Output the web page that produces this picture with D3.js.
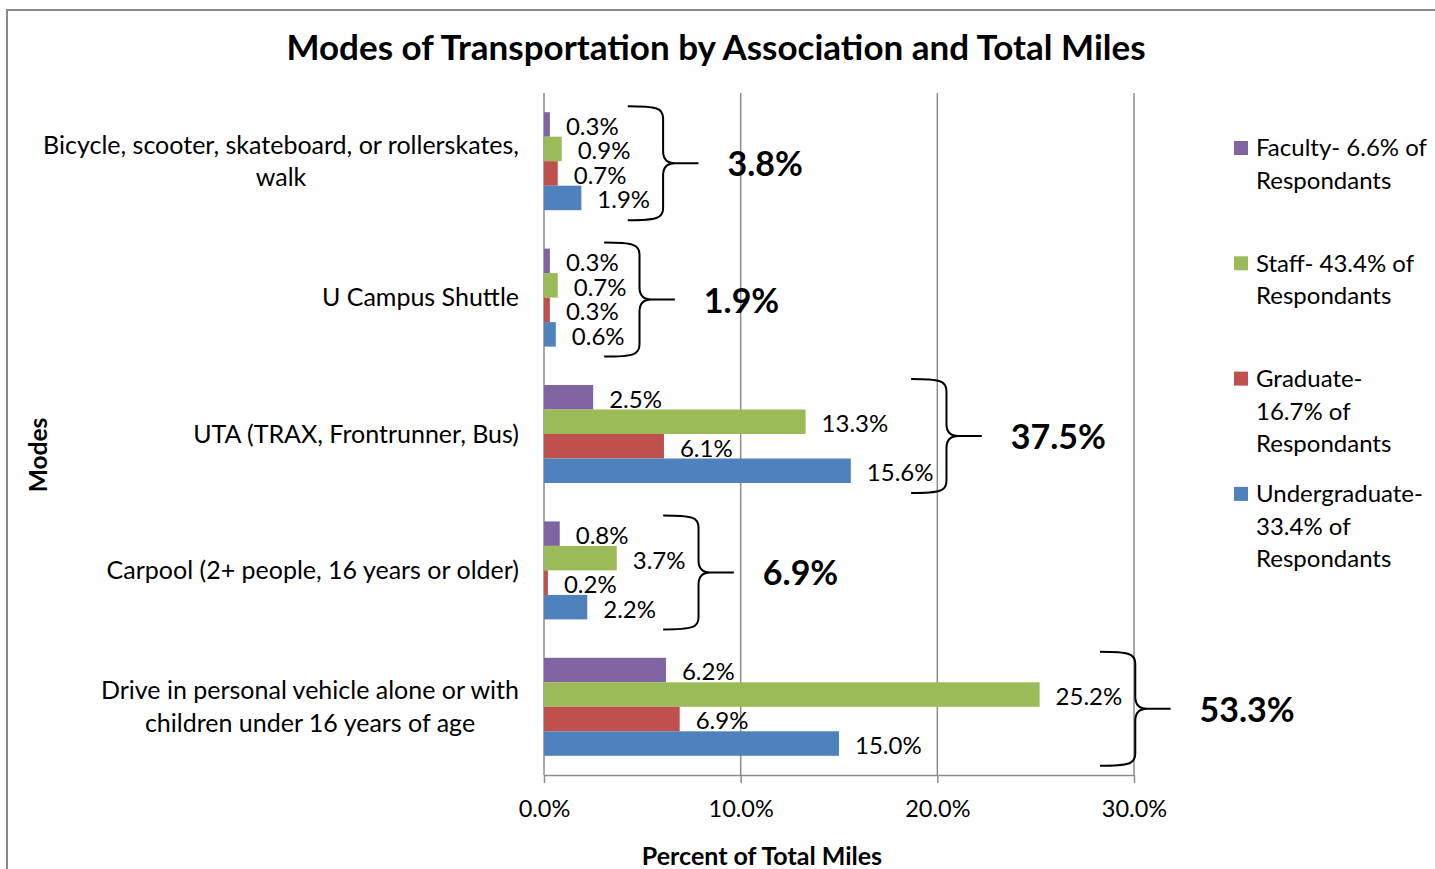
<!DOCTYPE html>
<html><head><meta charset="utf-8">
<script src="https://cdn.jsdelivr.net/npm/d3@7"></script>
<style>body{margin:0;background:#fff} svg{display:block} text{font-family:Lato, "Open Sans", sans-serif}</style>
</head><body><svg id="c" width="1435" height="869"></svg>
<script>
// ---- data ----
const categories = [
  "Bicycle, scooter, skateboard, or rollerskates,\nwalk",
  "U Campus Shuttle",
  "UTA (TRAX, Frontrunner, Bus)",
  "Carpool (2+ people, 16 years or older)",
  "Drive in personal vehicle alone or with\nchildren under 16 years of age"
];
const seriesNames = [
  "Faculty- 6.6% of\nRespondants",
  "Staff- 43.4% of\nRespondants",
  "Graduate-\n16.7% of\nRespondants",
  "Undergraduate-\n33.4% of\nRespondants"
];
const faculty   = [0.3, 0.3, 2.5, 0.8, 6.2];
const staff     = [0.9, 0.7, 13.3, 3.7, 25.2];
const graduate  = [0.7, 0.3, 6.1, 0.2, 6.9];
const undergrad = [1.9, 0.6, 15.6, 2.2, 15.0];
const totals    = [3.8, 1.9, 37.5, 6.9, 53.3];
const xTicks    = [0, 10, 20, 30];
const colors    = ["#8064A2", "#9BBB59", "#C0504D", "#4F81BD"];
const series = [faculty, staff, graduate, undergrad];

const svg = d3.select('#c');
svg.append('rect').attr('x',7).attr('y',10).attr('width',1440).attr('height',880)
  .attr('fill','#fff').attr('stroke','#8a8a8a').attr('stroke-width',2);

const plotTop = 93, plotBottom = 775;
const x = d3.scaleLinear().domain([0,30]).range([544,1134]);
const y = d3.scaleBand().domain(d3.range(categories.length)).range([plotTop,plotBottom])
  .paddingInner(0.2815).paddingOuter(0.14075);
const ys = d3.scaleBand().domain(d3.range(series.length)).range([0,y.bandwidth()]);

// title
svg.append('text').attr('x',716).attr('y',60).attr('text-anchor','middle')
  .style('font-size','35px').style('font-weight','bold')
  .text('Modes of Transportation by Association and Total Miles');

// gridlines
svg.append('g').selectAll('line').data(xTicks.filter(d=>d>0)).join('line')
  .attr('x1',d=>x(d)).attr('x2',d=>x(d)).attr('y1',plotTop).attr('y2',plotBottom)
  .attr('stroke','#8c8c8c').attr('stroke-width',1.5);
// y axis line
svg.append('line').attr('x1',x(0)).attr('x2',x(0)).attr('y1',plotTop).attr('y2',plotBottom)
  .attr('stroke','#8c8c8c').attr('stroke-width',1.5);

// x axis
const xa = svg.append('g').attr('transform',`translate(0,${plotBottom})`)
  .call(d3.axisBottom(x).tickValues(xTicks).tickFormat(d=>d.toFixed(1)+'%').tickSize(8).tickSizeOuter(0).tickPadding(17));
xa.select('.domain').attr('stroke','#8c8c8c').attr('stroke-width',1.5);
xa.selectAll('.tick line').attr('stroke','#8c8c8c').attr('stroke-width',1.5);
xa.selectAll('.tick text').attr('fill','#000').style('font-size','23.5px').style('font-family','Lato, sans-serif');

// category labels
categories.forEach((c,i)=>{
  const lines = c.split('\n');
  const cy = y(i) + y.bandwidth()/2;
  const lh = 32.5;
  const g = svg.append('text').attr('text-anchor','middle').style('font-size','25px');
  const t0 = cy - (lines.length-1)*lh/2;
  lines.forEach((l,k)=>{
    g.append('tspan').attr('x',0).attr('y',t0 + k*lh).attr('dy','0.35em').text(l);
  });
  const w = g.node().getBBox().width;
  g.attr('transform',`translate(${519 - w/2},0)`);
});

// bars and value labels
const labelRight = categories.map(()=>0);
series.forEach((vals,s)=>{
  svg.append('g').selectAll('rect').data(vals).join('rect')
    .attr('x',x(0)).attr('y',(d,i)=>y(i)+ys(s))
    .attr('width',d=>x(d)-x(0)).attr('height',ys.bandwidth())
    .attr('fill',colors[s]);
  svg.append('g').selectAll('text').data(vals).join('text')
    .attr('x',d=>x(d)+16).attr('y',(d,i)=>y(i)+ys(s)+ys.bandwidth()/2+2)
    .attr('dy','0.35em').style('font-size','24px')
    .text(d=>d.toFixed(1)+'%')
    .each(function(d,i){ const b=this.getBBox(); labelRight[i]=Math.max(labelRight[i], b.x+b.width); });
});

// braces and totals
totals.forEach((t,i)=>{
  const yT = y(i) - 6, yB = y(i) + y.bandwidth() + 10, yM = (yT+yB)/2;
  const h = yB - yT;
  const x1 = labelRight[i] + 13;
  const arm = h*0.31;
  const x0 = x1 - arm, x2 = x1 + arm;
  const r = 12;
  const p = `M${x0},${yT} C${x1-6},${yT} ${x1},${yT+2} ${x1},${yT+r} L${x1},${yM-r} C${x1},${yM-2} ${x1+6},${yM} ${x1+12},${yM} L${x2},${yM} `+
            `M${x1+12},${yM} C${x1+6},${yM} ${x1},${yM+2} ${x1},${yM+r} L${x1},${yB-r} C${x1},${yB-2} ${x1-6},${yB} ${x0},${yB}`;
  svg.append('path').attr('d',p).attr('fill','none').attr('stroke','#000').attr('stroke-width',2);
  svg.append('text').attr('x',x2+29).attr('y',yM+1).attr('dy','0.35em')
    .style('font-size','34px').style('font-weight','bold').text(t.toFixed(1)+'%');
});

// axis titles
svg.append('text').attr('x',762).attr('y',865).attr('text-anchor','middle')
  .style('font-size','25px').style('font-weight','bold').text('Percent of Total Miles');
svg.append('text').attr('transform','translate(47,455) rotate(-90)').attr('text-anchor','middle')
  .style('font-size','24.5px').style('font-weight','bold').text('Modes');

// legend
const legY = d3.scaleLinear().domain([0,1]).range([148,263.3]);
seriesNames.forEach((n,s)=>{
  const cy = legY(s);
  svg.append('rect').attr('x',1234).attr('y',cy-7).attr('width',14).attr('height',14).attr('fill',colors[s]);
  const tx = svg.append('text').style('font-size','24px');
  n.split('\n').forEach((l,k)=>{
    tx.append('tspan').attr('x',1256).attr('y',cy + k*32.5).attr('dy','0.35em').text(l);
  });
});
</script></body></html>
